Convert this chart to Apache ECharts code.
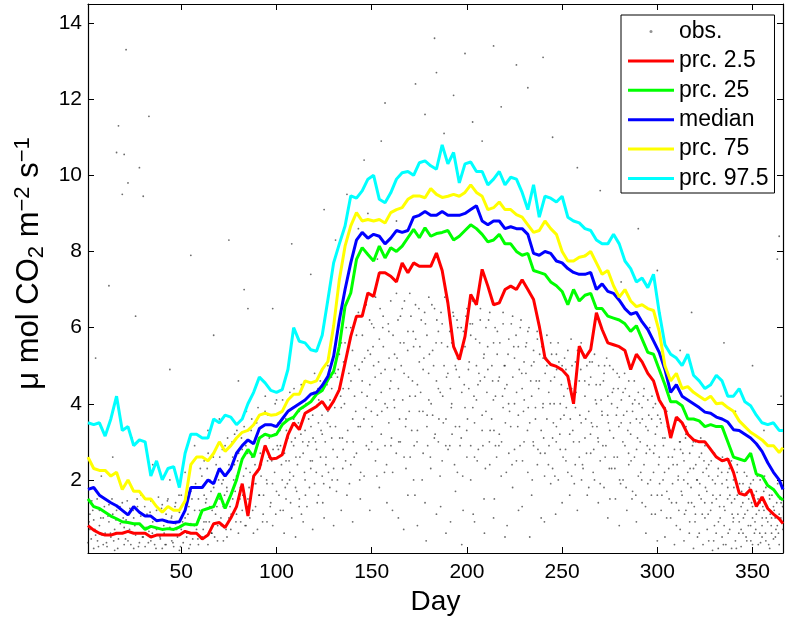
<!DOCTYPE html>
<html>
<head>
<meta charset="utf-8">
<script src="https://cdn.jsdelivr.net/npm/echarts@6.0.0/dist/echarts.min.js"></script>
<style>
html,body{margin:0;padding:0;background:#fff;}
#chart{width:788px;height:620px;}
</style>
</head>
<body>
<div id="chart"></div>
<script>
// ---- data ----
const days = [1,4,7,10,13,16,19,22,25,28,31,34,37,40,43,46,49,52,55,58,61,64,67,70,73,76,79,82,85,88,91,94,
97,100,103,106,109,112,115,118,121,124,127,130,133,136,139,142,145,148,151,154,157,160,163,166,169,172,175,178,181,184,
187,190,193,196,199,202,205,208,211,214,217,220,223,226,229,232,235,238,241,244,247,250,253,256,259,262,265,268,271,274,
277,280,283,286,289,292,295,298,301,304,307,310,313,316,319,322,325,328,331,334,337,340,343,346,349,352,355,358,361,364,366];

const prc2_5 = [0.8,0.68,0.6,0.55,0.55,0.6,0.6,0.65,0.6,0.6,0.6,0.5,0.55,0.55,0.55,0.55,0.55,0.65,0.6,0.6,0.45,0.55,0.85,0.88,0.75,1.0,1.3,1.9,1.05,2.1,2.3,2.9,
2.55,2.57,2.66,3.18,3.5,3.32,3.75,3.84,3.93,4.06,3.84,4.07,4.37,5.07,5.77,6.3,6.3,6.91,6.82,7.44,7.44,7.35,7.2,7.7,7.44,7.7,7.61,7.61,7.61,7.96,
7.5,6.65,5.5,5.16,5.77,6.87,6.6,7.53,7.09,6.6,6.65,7.0,7.09,7.0,7.26,7.0,6.74,6.04,5.2,5.03,4.98,4.89,4.72,4.0,5.51,5.2,5.42,6.39,5.95,5.6,
5.55,5.5,5.4,4.9,5.3,5.1,4.8,4.6,4.1,3.85,3.1,3.65,3.5,3.2,3.05,3.0,3.0,2.8,2.6,2.5,2.55,2.2,1.65,1.6,1.75,1.3,1.55,1.25,1.1,0.98,0.85];

const prc25 = [1.5,1.3,1.25,1.15,1.05,0.98,0.9,0.88,0.85,0.85,0.7,0.78,0.74,0.7,0.72,0.7,0.76,0.85,0.82,0.82,1.2,1.25,1.3,1.65,1.25,1.6,2.0,2.55,2.8,2.6,3.1,3.2,
3.15,3.2,3.45,3.58,3.65,3.85,3.95,4.05,4.25,4.35,4.63,4.85,5.51,6.56,6.91,7.79,8.1,7.92,7.75,8.14,7.83,8.1,8.0,8.14,8.36,8.58,8.36,8.62,8.4,8.47,
8.5,8.55,8.3,8.4,8.55,8.7,8.6,8.45,8.25,8.3,8.45,8.2,8.2,8.0,7.9,7.95,7.5,7.45,7.4,7.2,7.1,6.95,6.6,7.0,6.7,6.85,6.9,6.5,6.5,6.3,
6.25,6.2,6.1,5.9,6.05,5.7,5.35,5.3,4.9,4.5,4.05,4.05,3.95,3.6,3.6,3.55,3.4,3.45,3.4,3.4,3.0,2.6,2.55,2.5,2.7,2.15,2.1,1.85,1.75,1.55,1.47];

const median = [1.75,1.8,1.6,1.5,1.4,1.32,1.2,1.08,1.3,1.15,1.05,1.05,0.93,0.95,0.9,0.88,0.9,1.2,1.8,1.8,1.8,2.0,1.9,2.3,2.1,2.3,2.7,2.9,3.05,2.95,3.35,3.45,
3.45,3.4,3.6,3.8,3.9,4.0,4.1,4.25,4.3,4.48,4.72,5.25,6.2,7.0,7.7,8.3,8.5,8.35,8.45,8.4,8.2,8.35,8.55,8.5,8.55,8.9,8.95,9.05,8.95,8.95,
9.05,8.95,8.95,8.95,9.0,9.1,9.2,8.8,8.7,8.8,8.8,8.6,8.65,8.6,8.6,8.45,7.95,7.9,8.0,7.95,7.75,7.7,7.55,7.45,7.4,7.4,7.45,7.0,7.15,6.95,
6.9,6.72,6.5,6.35,6.4,6.15,5.95,5.65,5.35,4.9,4.3,4.5,4.2,4.1,4.0,3.9,3.78,3.75,3.65,3.6,3.52,3.32,3.3,3.2,3.1,2.95,2.75,2.45,2.2,2.0,1.75];

const prc75 = [2.6,2.3,2.25,2.25,2.1,2.2,1.75,2.0,1.7,1.7,1.5,1.5,1.3,1.15,1.3,1.2,1.2,1.45,2.4,2.6,2.6,2.5,2.7,3.0,2.75,2.9,3.1,3.25,3.3,3.45,3.7,3.75,
3.7,3.72,3.8,4.1,4.25,4.25,4.6,4.55,4.6,4.9,5.11,6.04,7.26,8.14,8.67,9.02,8.8,8.84,8.8,8.84,8.75,9.02,9.1,9.15,9.37,9.46,9.46,9.41,9.65,9.5,
9.42,9.45,9.5,9.45,9.55,9.75,9.55,9.45,9.1,9.15,9.3,9.1,9.1,8.97,8.9,8.7,8.5,8.55,8.8,8.6,8.45,8.0,7.75,7.75,7.85,7.88,8.0,7.7,7.4,7.5,
7.1,6.8,7.0,6.7,6.55,6.6,6.5,6.45,5.9,5.0,4.6,4.8,4.4,4.45,4.3,4.2,4.1,4.2,4.0,4.02,3.9,3.8,3.55,3.4,3.25,3.15,3.05,2.9,2.9,2.72,2.85];

const prc97_5 = [3.5,3.45,3.5,3.15,3.6,4.2,3.3,3.4,2.9,3.05,3.0,2.1,2.5,2.0,2.3,2.35,1.8,2.7,3.2,3.2,3.1,3.1,3.6,3.5,3.7,3.65,3.45,3.6,4.0,4.3,4.7,4.55,
4.35,4.3,4.37,4.9,6.0,5.64,5.6,5.42,5.38,5.8,6.74,7.7,8.2,8.67,9.46,9.4,9.59,9.9,10.0,9.37,9.28,9.54,9.9,10.07,10.1,10.0,10.33,10.38,10.25,10.16,
10.8,10.3,10.6,9.8,10.3,10.35,10.1,10.1,9.75,9.9,10.1,9.75,9.95,9.9,9.55,9.1,9.75,8.9,9.45,9.4,9.3,9.45,8.9,8.8,8.75,8.6,8.55,8.3,8.2,8.2,
8.45,8.2,7.75,7.55,7.2,7.3,7.05,7.4,6.4,5.55,5.3,5.2,5.0,5.3,4.75,4.6,4.4,4.5,4.75,4.6,4.2,4.2,4.4,4.05,3.95,3.7,3.5,3.45,3.5,3.3,3.3];

const obs = [
[1,0.35],[2,1.1],[2,0.7],[3,1.45],[4,0.2],[4,0.95],[5,1.3],[5,0.55],[5,5.2],
[6,0.4],[7,1.2],[7,0.8],[8,2.1],[9,0.3],[9,1.0],[10,0.6],[10,1.5],
[11,0.25],[12,0.9],[12,1.35],[13,0.5],[14,1.1],[14,2.6],[15,0.7],[15,0.15],[12,7.1],
[16,10.6],[16,1.2],[17,0.45],[17,11.3],[18,0.85],[19,9.5],[19,1.4],[20,0.3],[20,0.75],[20,10.55],
[21,13.3],[21,0.95],[22,9.8],[22,0.4],[23,1.25],[24,0.6],[24,3.1],[25,0.2],[25,1.0],
[26,0.55],[27,1.3],[28,10.2],[28,0.35],[29,0.8],[29,1.6],[30,0.5],[30,9.45],[26,6.3],
[31,0.25],[32,1.1],[33,11.55],[33,0.65],[34,1.45],[34,0.4],[35,0.9],[35,2.4],
[36,0.3],[37,1.2],[37,0.7],[38,1.55],[39,0.45],[39,0.95],[40,0.2],[40,1.35],
[41,0.6],[42,1.1],[42,0.3],[43,1.5],[44,0.75],[44,2.0],[45,0.4],[45,1.05],[44,4.9],
[46,0.25],[47,0.85],[47,1.4],[48,0.5],[49,1.15],[49,0.15],[50,0.7],[50,1.6],
[51,0.35],[52,1.0],[52,2.2],[53,0.6],[54,1.3],[54,0.2],[55,0.85],[55,1.7],[55,7.9],
[56,0.45],[57,1.2],[57,2.9],[58,0.7],[59,1.5],[59,0.3],[60,1.0],[60,2.3],
[61,0.5],[62,1.6],[62,2.5],[63,0.9],[64,3.3],[64,0.3],[65,1.3],[65,2.0],
[66,0.6],[67,1.8],[67,2.7],[68,1.1],[69,0.4],[69,2.2],[70,1.5],[70,3.6],[67,5.8],
[71,0.8],[72,2.0],[72,1.3],[73,2.9],[74,0.5],[74,1.7],[75,2.4],[75,1.0],[75,8.3],
[76,0.7],[77,2.6],[77,1.5],[78,3.2],[79,1.1],[79,2.1],[80,0.6],[80,4.6],
[81,1.8],[82,2.8],[82,1.2],[83,3.4],[84,0.8],[84,2.3],[85,1.5],[85,6.5],[83,7.0],
[86,1.0],[87,2.6],[87,3.6],[88,1.9],[89,1.3],[89,3.1],[90,0.7],[90,2.2],
[91,1.6],[92,3.4],[92,2.4],[93,1.1],[94,2.9],[94,3.8],[95,1.9],[95,0.9],
[96,2.6],[97,1.4],[97,3.7],[98,0.8],[99,2.2],[99,3.2],[100,1.7],[100,4.1],[98,6.5],
[101,2.8],[102,1.2],[102,3.5],[103,2.0],[104,0.6],[104,3.9],[105,2.5],[105,1.5],
[106,3.1],[107,2.2],[107,4.3],[108,1.0],[109,2.9],[109,3.6],[110,1.8],[110,0.5],[108,8.2],
[111,2.4],[112,3.8],[112,1.5],[113,4.5],[114,2.7],[114,0.9],[115,3.3],[115,2.0],
[116,1.3],[117,3.0],[117,4.2],[118,2.3],[119,3.7],[119,0.7],[120,1.9],[120,4.8],[118,7.4],
[121,2.8],[122,3.5],[122,1.6],[123,4.6],[124,2.1],[124,3.2],[125,1.0],[125,4.0],[125,9.1],
[126,2.6],[127,3.8],[127,5.0],[128,1.8],[129,3.1],[129,4.4],[130,2.3],[130,0.8],
[131,3.4],[132,4.7],[132,2.0],[133,5.3],[134,1.2],[134,3.9],[135,2.8],[135,4.4],[133,6.2],
[136,5.6],[137,3.0],[137,1.6],[138,4.8],[139,2.4],[139,6.0],[140,3.6],[140,0.9],[138,7.5],
[141,4.2],[142,5.8],[142,2.7],[143,6.4],[144,1.5],[144,3.4],[145,5.1],[145,4.6],[143,8.6],
[146,2.1],[147,6.6],[147,3.9],[148,5.4],[149,1.2],[149,4.5],[150,3.0],[150,6.1],[148,9.0],
[151,5.0],[152,2.5],[152,6.8],[153,3.7],[154,5.7],[154,1.8],[155,4.3],[155,3.2],[153,7.8],
[156,6.3],[157,2.9],[157,4.9],[158,1.4],[159,5.9],[159,3.5],[160,4.6],[160,6.7],[157,11.9],
[161,2.2],[162,5.3],[162,3.9],[163,6.9],[164,1.0],[164,4.4],[165,3.0],[165,5.6],[163,8.8],
[166,6.5],[167,2.6],[167,4.8],[168,3.6],[169,5.9],[169,1.6],[170,4.2],[170,6.9],
[171,3.3],[172,5.5],[172,2.0],[173,6.6],[174,4.5],[174,0.8],[175,3.8],[175,5.1],[173,12.4],
[176,6.2],[177,2.7],[177,4.9],[178,1.4],[179,5.8],[179,3.4],[180,6.8],[180,4.1],[178,11.6],
[181,2.3],[182,5.4],[182,3.7],[183,6.5],[184,1.1],[184,4.6],[185,3.0],[185,5.9],[183,13.6],[184,12.7],
[186,4.3],[187,6.1],[187,2.5],[188,5.0],[189,3.6],[189,0.6],[190,6.6],[190,4.8],[188,11.1],
[191,2.9],[192,5.6],[192,4.0],[193,6.3],[194,1.7],[194,3.4],[195,5.2],[195,2.2],[193,12.1],
[196,4.7],[197,6.0],[197,3.1],[198,1.2],[199,5.5],[199,3.9],[200,6.5],[200,2.6],[199,13.2],
[201,4.4],[202,5.8],[202,2.0],[203,6.7],[204,3.5],[204,0.9],[205,5.0],[205,4.1],[203,11.4],
[206,2.8],[207,6.2],[207,4.6],[208,3.3],[209,5.3],[209,1.5],[210,6.0],[210,3.8],[208,10.9],
[211,4.9],[212,2.4],[212,6.4],[213,3.6],[214,5.6],[214,1.0],[215,4.2],[215,2.9],
[216,5.9],[217,3.2],[217,4.7],[218,2.1],[219,6.1],[219,3.9],[220,5.0],[220,0.5],[218,11.8],
[221,4.5],[222,2.7],[222,5.7],[223,3.4],[224,6.3],[224,1.8],[225,4.0],[225,5.2],
[226,2.5],[227,5.5],[227,3.7],[228,6.0],[229,1.3],[229,4.4],[230,3.0],[230,5.1],
[231,4.8],[232,2.2],[232,5.9],[233,3.5],[234,4.2],[234,1.6],[235,5.4],[235,2.9],
[236,3.9],[237,5.7],[237,2.4],[238,4.6],[239,1.0],[239,3.3],[240,5.2],[240,4.0],
[241,2.7],[242,5.0],[242,3.6],[243,4.3],[244,1.9],[244,5.6],[245,3.1],[245,2.3],
[246,4.7],[247,3.4],[247,5.3],[248,2.0],[249,4.0],[249,2.8],[250,5.0],[250,1.4],
[251,3.7],[252,4.9],[252,2.5],[253,5.4],[254,1.6],[254,3.2],[255,4.4],[255,2.1],
[256,3.0],[257,5.1],[257,3.9],[258,1.2],[259,4.6],[259,2.6],[260,3.5],[260,5.6],
[261,2.3],[262,4.2],[262,3.1],[263,5.0],[264,1.8],[264,3.8],[265,2.7],[265,4.7],[262,7.9],
[266,3.4],[267,5.3],[267,2.0],[268,4.0],[269,1.4],[269,3.0],[270,4.5],[270,2.5],
[271,3.7],[272,4.8],[272,1.8],[273,2.9],[274,4.2],[274,1.0],[275,3.3],[275,5.0],
[276,2.3],[277,4.4],[277,3.1],[278,1.5],[279,3.9],[279,2.6],[280,4.7],[280,0.8],
[281,3.5],[282,2.0],[282,4.3],[283,2.9],[284,1.2],[284,3.8],[285,2.4],[285,4.6],[281,7.2],
[286,3.2],[287,1.7],[287,4.0],[288,2.6],[289,3.6],[289,0.9],[290,2.1],[290,4.3],
[291,3.0],[292,1.4],[292,3.9],[293,2.4],[294,3.4],[294,0.6],[295,1.9],[295,4.1],
[296,2.8],[297,3.6],[297,1.1],[298,2.2],[299,3.2],[299,4.0],[300,1.6],[300,0.4],[296,6.0],
[301,2.6],[302,3.5],[302,1.2],[303,2.0],[304,3.1],[304,0.5],[305,1.7],[305,3.8],
[306,2.3],[307,1.0],[307,3.3],[308,1.9],[309,2.8],[309,0.3],[310,1.4],[310,3.6],
[311,2.1],[312,0.7],[312,3.0],[313,1.6],[314,2.5],[314,0.4],[315,1.2],[315,3.2],[312,5.4],
[316,1.9],[317,2.7],[317,0.9],[318,1.4],[319,2.3],[319,0.2],[320,3.0],[320,1.1],
[321,2.0],[322,0.6],[322,2.6],[323,1.5],[324,0.3],[324,2.2],[325,1.0],[325,2.9],
[326,1.7],[327,0.4],[327,2.4],[328,1.2],[329,2.0],[329,0.15],[330,2.7],[330,0.8],[328,4.5],
[331,1.5],[332,2.3],[332,0.2],[333,1.0],[334,1.9],[334,0.5],[335,2.5],[335,1.3],
[336,0.3],[337,1.8],[337,2.2],[338,0.7],[339,1.4],[339,0.2],[340,2.0],[340,1.0],
[341,0.4],[342,1.6],[342,2.4],[343,0.9],[344,1.3],[344,0.25],[345,1.9],[345,0.6],[341,3.8],
[346,1.1],[347,2.1],[347,0.4],[348,1.5],[349,0.8],[349,1.9],[350,0.3],[350,1.3],
[351,0.6],[352,1.7],[352,1.1],[353,0.3],[354,1.4],[354,2.0],[355,0.8],[355,0.5],
[356,1.2],[357,0.4],[357,1.8],[358,0.9],[359,1.5],[359,0.2],[360,1.0],[360,0.6],[356,3.3],
[361,1.3],[362,0.5],[362,1.7],[363,0.8],[364,1.1],[364,0.3],[365,1.4],[366,0.7],[364,8.4],[363,7.8],[365,4.2]
];

const obsMore = [
[1.6,0.9],[2.7,0.45],[3.5,1.2],[4.6,0.7],[5.8,1.5],[6.5,0.25],[7.7,1.0],[8.4,0.55],[9.6,1.3],[10.7,0.35],[11.5,1.05],[12.8,0.6],[13.6,1.5],[14.5,0.4],[15.7,0.95],[16.6,0.2],[17.8,1.3],[18.6,0.6],[19.5,1.0],[20.7,0.45],
[21.6,1.45],[22.8,0.7],[23.5,0.3],[24.7,1.2],[25.6,0.8],[26.8,1.5],[27.5,0.25],[28.7,1.05],[29.6,0.5],[30.8,1.3],[31.5,0.75],[32.7,0.35],[33.6,1.15],[34.8,0.6],[35.5,1.4],[36.7,0.2],[37.6,0.95],[38.8,0.5],[39.6,1.25],[40.8,0.8],
[41.5,0.3],[42.7,1.45],[43.6,0.55],[44.8,1.0],[45.6,0.35],[46.7,1.3],[47.5,0.7],[48.8,1.6],[49.6,0.25],[50.7,0.9],[51.6,1.4],[52.8,0.5],[53.5,1.1],[54.7,0.3],[55.6,1.5],[56.8,0.8],[57.5,1.9],[58.7,0.45],[59.6,1.2],[60.8,2.1],
[61.5,0.7],[62.8,1.4],[63.6,2.3],[64.7,0.9],[65.6,1.7],[66.8,2.6],[67.5,0.5],[68.7,1.3],[69.6,2.0],[70.8,1.0],[71.6,2.8],[72.7,1.6],[73.5,0.7],[74.8,2.2],[75.6,1.3],[76.7,3.0],[77.5,2.0],[78.7,0.9],[79.6,2.5],[80.8,1.5],
[81.6,3.1],[82.7,2.1],[83.5,0.8],[84.8,2.7],[85.6,1.8],[86.7,3.3],[87.5,1.2],[88.7,2.4],[89.6,3.5],[90.8,1.6],[91.5,2.7],[92.7,0.9],[93.6,3.2],[94.8,2.0],[95.6,3.7],[96.7,1.3],[97.5,2.5],[98.7,3.4],[99.6,1.1],
[100.4,2.9],[101.3,1.6],[101.8,3.3],[102.6,2.4],[103.5,1.2],[104.2,2.7],[104.9,3.6],[105.7,1.9],[106.6,2.5],[107.4,1.4],[108.3,3.9],[108.9,2.1],[109.8,3.1],[110.6,1.7],[111.5,3.5],[112.3,2.6],[113.1,1.1],[113.8,3.0],[114.7,2.2],[115.6,4.0],
[116.4,2.9],[117.3,1.8],[118.1,3.4],[118.8,2.5],[119.7,4.3],[120.5,3.0],[121.4,1.4],[122.2,4.1],[123.1,2.6],[123.9,3.7],[124.8,1.9],[125.6,3.0],[126.5,4.5],[127.3,2.2],[128.2,3.4],[128.9,4.7],[129.7,2.8],[130.6,3.9],[131.5,1.7],[132.4,4.9],
[133.2,3.1],[134.1,5.6],[134.8,2.3],[135.7,4.0],[136.6,6.0],[137.4,3.3],[138.3,1.9],[139.1,4.6],[139.9,5.4],[140.8,2.6],[141.6,3.8],[142.5,6.3],[143.4,4.9],[144.2,2.2],[145.1,5.8],[145.9,3.6],[146.8,6.6],[147.6,4.2],[148.5,2.8],[149.3,5.3],
[150.2,3.4],[151.1,6.0],[151.8,4.7],[152.7,2.1],[153.6,5.1],[154.4,6.5],[155.3,3.8],[156.1,5.5],[157.0,4.0],[157.8,2.4],
[158.7,6.1],[159.5,4.4],[160.4,3.1],[161.2,5.8],[162.1,4.9],[162.9,2.7],[163.8,6.2],[164.6,3.6],[165.5,5.0],[166.3,4.1],[167.2,6.7],[168.0,2.3],[168.9,5.4],[169.7,3.8],[170.6,6.3],[171.4,4.6],[172.3,2.9],[173.1,5.7],[174.0,3.3],[174.8,6.5],
[175.7,4.3],[176.5,2.0],[177.4,5.2],[178.2,6.1],[179.1,3.7],[179.9,4.8],[180.8,2.6],[181.6,6.6],[182.5,5.0],[183.3,3.2],[184.2,6.2],[185.0,4.4],[185.9,2.1],[186.7,5.6],[187.6,3.5],[188.4,6.8],[189.3,4.7],[190.1,2.8],[191.0,5.9],[191.8,3.9],
[192.7,6.4],[193.5,2.4],[194.4,4.9],[195.2,6.0],[196.1,3.4],[196.9,5.4],[197.8,2.1],[198.6,4.5],[199.5,6.3],[200.3,3.6],[201.2,5.1],[202.0,2.9],[202.9,6.1],[203.7,4.2],[204.6,5.7],[205.4,2.5],[206.3,4.8],[207.1,6.5],[208.0,3.7],[208.8,5.2],
[209.7,2.3],[210.5,4.3],[211.4,6.2],[212.2,3.3],[213.1,5.0],[213.9,4.1],[214.8,6.0],[215.6,2.6],[216.5,4.6],[217.3,5.6],[218.2,3.0],[219.0,6.4],[219.9,4.4],[220.7,2.2],[221.6,5.3],[222.4,3.8],[223.3,6.1],[224.1,4.7],[225.0,2.8],[225.8,5.8],
[226.7,3.4],[227.5,4.9],[228.4,6.2],[229.2,2.5],[230.1,4.1],[230.9,5.5],[231.8,3.3],[232.6,6.0],[233.5,4.6],[234.3,2.0],[235.2,5.1],[236.0,3.6],[236.9,5.9],[237.7,4.4],[238.6,2.7],[239.4,5.5],[240.3,3.1],[241.1,4.8],[242.0,5.8],[242.8,2.4],
[243.7,4.0],[244.5,5.3],[245.4,3.5],[246.2,2.1],[247.1,4.9],[247.9,5.6],[248.8,3.2],[249.6,4.5],[250.5,2.6],
[160.9,1.2],[166.8,0.7],[172.7,1.6],[178.6,0.4],[186.2,1.3],[191.4,0.9],[197.3,0.3],[203.3,1.1],[209.2,0.6],[214.4,1.5],[221.1,0.8],[227.1,1.2],[233.0,0.5],[240.7,0.9],[246.6,1.1],
[251.3,5.2],[252.2,3.9],[253.0,2.2],[253.9,4.6],[254.7,5.7],[255.6,3.3],[256.4,1.9],[257.3,4.3],[258.1,5.4],[259.0,3.0],[259.8,4.9],[260.7,2.4],[261.5,5.3],[262.4,3.6],[263.2,1.6],[264.1,4.5],[264.9,3.2],[265.8,5.1],[266.6,2.8],[267.5,4.1],
[268.3,3.4],[269.2,5.0],[270.0,1.9],[270.9,3.8],[271.7,4.6],[272.6,2.6],[273.4,5.2],[274.3,3.5],[275.1,1.5],[276.0,4.0],[276.8,4.9],[277.7,2.3],[278.5,3.7],[279.4,4.4],[280.2,2.0],[281.1,4.1],[281.9,3.0],[282.8,4.8],[283.6,1.8],[284.5,3.3],
[285.3,4.2],[286.2,2.5],[287.0,3.8],[287.9,4.6],[288.7,1.6],[289.6,3.1],[290.4,4.0],[291.3,2.2],[292.1,3.6],[293.0,4.4],[293.8,1.3],[294.7,2.9],[295.5,3.7],[296.4,2.0],[297.2,4.2],[298.1,2.7],[298.9,1.1],[299.8,3.4],
[300.7,2.4],[301.5,3.6],[302.4,1.6],[303.2,2.9],[304.1,3.9],[304.9,1.0],[305.8,2.6],[306.6,3.3],[307.5,1.4],[308.3,2.4],[309.2,3.5],[310.0,0.8],[310.9,2.0],[311.7,3.0],[312.6,1.7],[313.4,2.7],[314.3,1.1],[315.1,3.4],[316.0,2.2],[316.8,0.6],
[317.7,1.8],[318.5,2.9],[319.4,1.3],[320.2,2.4],[321.1,0.5],[321.9,1.6],[322.8,3.1],[323.6,1.1],[324.5,2.5],[325.3,1.8],[326.2,0.7],[327.0,2.1],[327.9,2.8],[328.7,1.4],[329.6,0.4],[330.4,1.9],[331.3,2.6],[332.1,0.9],[333.0,1.6],[333.8,2.2],
[334.7,0.3],[335.5,1.2],[336.4,2.0],[337.2,0.6],[338.1,1.6],[338.9,2.5],[339.8,0.9],[340.6,1.5],[341.5,0.2],[342.3,1.1],[343.2,1.9],[344.0,0.7],[344.9,1.4],[345.7,2.2],[346.6,0.5],[347.4,1.2],[348.3,1.8],[349.1,0.4],[350.0,1.0],[350.8,1.6],
[351.7,0.7],[352.5,2.1],[353.4,1.2],[354.2,0.35],[355.1,1.0],[355.9,1.7],[356.8,0.6],[357.6,1.3],[358.5,0.3],[359.3,1.1],[360.2,1.6],[361.0,0.45],[361.9,1.0],[362.7,1.4],[363.6,0.6],[364.4,1.5],[365.3,0.9],
[232,12.3],[245,11.0],[258,10.2],[270,9.6],[240,13.1],[226,12.9],[214,13.4],[155,10.9],[146,10.4],[137,9.5],[131,8.3],[290,8.6],[300,7.5],[318,6.4],[335,5.6],[350,5.0]
];

const obsCore = [
[60.3,1.8],[61.9,0.9],[63.2,1.5],[64.1,2.7],[65.9,0.6],[66.2,1.2],[68.3,2.4],[69.1,0.8],[70.2,2.6],[71.3,1.9],[72.1,0.4],[73.9,1.8],[74.3,3.1],[76.2,1.1],[77.9,2.4],[78.3,1.7],[79.2,3.3],[80.1,2.7],[81.2,0.9],[82.3,1.6],
[83.9,2.9],[84.2,3.8],[86.1,2.2],[87.9,0.6],[88.2,3.0],[89.1,1.9],[90.3,3.9],[91.9,2.1],[93.2,1.6],[94.1,4.2],[95.3,2.5],[96.2,3.1],[97.9,1.9],[98.2,2.8],[99.3,4.0],
[100.9,3.5],[102.1,2.9],[103.2,4.1],[104.6,1.8],[105.2,3.3],[106.9,2.0],[107.9,3.0],[109.2,4.4],[110.2,2.6],[111.9,1.3],[112.8,3.2],[114.1,3.9],[115.2,1.6],[116.9,3.6],[117.8,2.5],[119.2,3.1],[120.9,2.2],[121.8,4.4],[123.4,3.3],[124.3,1.4],
[125.9,2.4],[126.8,3.5],[128.1,4.1],[129.2,2.0],[130.9,4.8],[131.9,2.6],[133.7,4.2],[134.6,3.1],[135.2,5.1],[136.3,2.5],[137.9,4.4],[138.8,5.7],[140.3,3.0],[141.2,5.0],[142.9,3.4],[143.7,2.0],[144.8,4.3],[146.3,5.2],[147.2,2.9],[148.9,6.2],
[149.8,3.8],[150.7,5.5],[152.2,4.1],[153.1,2.8],[154.9,4.8],[155.8,6.0],[156.7,2.2],[158.2,3.9],[159.1,5.2],[160.1,2.9],
[161.7,4.1],[163.3,5.2],[164.2,3.0],[165.1,6.3],[166.9,5.6],[167.8,3.4],[169.3,4.7],[170.2,2.6],[171.8,5.9],[172.9,4.2],[173.8,3.0],[175.3,5.5],[176.9,3.8],[177.8,6.4],[179.4,2.9],[180.3,5.3],[181.2,4.0],[182.9,3.1],[183.8,5.6],[185.3,3.6],
[186.4,6.4],[187.3,4.2],[188.9,2.9],[189.8,5.5],[191.3,4.4],[192.2,3.2],[193.9,5.0],[194.8,6.2],[196.4,2.9],[197.3,4.3],[198.2,5.9],[199.9,3.3],[200.8,4.9],[201.7,6.1],[203.1,3.9],[204.0,2.6],[205.8,4.5],[206.7,5.6],[208.4,2.9],[209.3,4.7],
[210.9,5.5],[211.8,3.0],[213.5,4.6],[214.2,3.3],[215.9,5.3],[216.8,2.9],[218.7,4.2],[219.6,5.0],[220.2,3.5],[221.9,4.0],[223.7,2.4],[224.6,5.5],[226.1,4.3],[227.9,2.9],[228.8,4.8],[229.7,3.8],[231.3,5.6],[232.2,3.9],[233.9,5.0],[234.8,3.0],
[236.4,4.6],[237.3,2.8],[238.2,5.3],[239.9,3.9],[240.8,2.1],[241.7,5.2],[243.1,2.9],[244.0,4.6],[245.8,4.0],[246.9,3.0],[248.3,5.1],[249.2,3.6],[250.9,4.2],
[251.8,2.8],[252.9,4.4],[254.3,3.6],[255.2,5.0],[256.9,2.4],[257.8,4.8],[259.3,3.7],[260.2,2.0],[261.9,4.6],[262.8,2.7],[264.5,5.1],[265.4,3.5],[266.3,2.2],[267.9,4.5],[268.8,3.1],[270.5,4.1],[271.4,2.9],[272.3,5.0],[273.9,3.7],[274.8,2.3],
[276.4,4.3],[277.3,2.6],[278.9,4.8],[279.8,3.4],[280.7,1.9],[282.3,3.7],[283.2,4.4],[284.9,2.7],[285.8,3.5],[286.7,1.5],[288.2,4.1],[289.1,2.8],[290.9,3.5],[291.8,2.0],[292.7,4.2],[294.2,2.7],[295.1,3.3],[296.9,1.6],[297.8,3.9],[298.7,2.9],
[300.2,3.7],[301.2,1.9],[302.9,3.1],[303.8,2.2],[305.3,3.4],[306.2,1.5],[307.9,2.6],[308.8,3.4],[310.4,2.4],[311.3,1.2],[312.2,2.8],[313.9,2.0],[314.8,3.1],[316.3,1.4],[317.2,2.3],[318.9,3.0],[319.8,0.9],[320.7,2.0],[322.3,1.9],[323.2,2.7],
[324.9,1.4],[325.8,2.3],[326.7,1.1],[328.3,2.5],[329.2,1.6],[330.9,0.6],[331.8,2.1],[332.7,1.3],[334.2,2.6],[335.1,0.8],[336.9,1.5],[337.8,2.3],[339.3,1.1],[340.2,1.8],[341.9,2.2],[342.8,0.6],[344.3,1.7],[345.2,1.0],[346.9,1.6],[347.8,0.8],
[349.5,1.4],[350.4,2.0],[351.3,0.9],[352.9,1.5],[353.8,0.6],[355.4,1.3],[356.3,2.1],[357.2,1.0],[358.9,1.6],[359.8,0.8],[361.4,1.2],[362.3,0.7],[363.2,1.9],[364.9,1.0],[365.8,1.3]
];

const seriesNames = ['obs.','prc. 2.5','prc. 25','median','prc. 75','prc. 97.5'];
const seriesColors = ['#3c3c3c','#ff0000','#00ff00','#0000ff','#ffff00','#00ffff'];
const lineValues = [prc2_5, prc25, median, prc75, prc97_5];
const xRange = [1, 366];
const yRange = [0.08, 14.5];

// ---- chart ----
const FONT = 'Liberation Sans, Arial, Helvetica, sans-serif';
const chart = echarts.init(document.getElementById('chart'), null, {renderer:'canvas'});

const pair = (arr) => days.map((d, i) => [d, arr[i]]);

const baseX = {
  type:'value', min:xRange[0], max:xRange[1], minInterval:50, maxInterval:50,
  axisLine:{show:true, onZero:false, lineStyle:{color:'#000', width:1.2}},
  axisTick:{show:true, inside:true, length:6, lineStyle:{color:'#000', width:1}},
  splitLine:{show:false}
};
const baseY = {
  type:'value', min:yRange[0], max:yRange[1], minInterval:2, maxInterval:2,
  axisLine:{show:true, onZero:false, lineStyle:{color:'#000', width:1.2}},
  axisTick:{show:true, inside:true, length:6, lineStyle:{color:'#000', width:1}},
  splitLine:{show:false}
};

const series = [{
  name: seriesNames[0], type:'scatter', data: obs.concat(obsMore, obsCore), symbol:'circle', symbolSize:1.8,
  itemStyle:{color:'rgba(25,25,25,0.8)'}, silent:true, z:1
}];
lineValues.forEach((arr, k) => {
  series.push({
    name: seriesNames[k+1], type:'line', data: pair(arr), symbol:'none', showSymbol:false,
    lineStyle:{color: seriesColors[k+1], width:3}, itemStyle:{color: seriesColors[k+1]},
    silent:true, z: 2 + k
  });
});

chart.setOption({
  animation:false,
  backgroundColor:'#fff',
  grid:{left:88, right:5, top:4, bottom:67, containLabel:false, outerBoundsMode:'none'},
  xAxis:[
    Object.assign({}, baseX, {
      position:'bottom',
      axisLabel:{fontSize:21, color:'#000', fontFamily:FONT, margin:9, showMinLabel:false, showMaxLabel:false},
      name:'Day', nameLocation:'middle', nameGap:31,
      nameTextStyle:{fontSize:28, color:'#000', fontFamily:FONT}
    }),
    Object.assign({}, baseX, {position:'top', axisLabel:{show:false}})
  ],
  yAxis:[
    Object.assign({}, baseY, {
      position:'left',
      axisLabel:{fontSize:21, color:'#000', fontFamily:FONT, margin:6, showMinLabel:false, showMaxLabel:false},
      name:'{a|\u03bc mol CO}{b|2}{a| m}{c|\u22122}{a| s}{c|\u22121}',
      nameLocation:'middle', nameGap:35, nameRotate:90,
      nameTextStyle:{color:'#000', fontFamily:FONT, padding:[0,0,0,30], rich:{
        a:{fontSize:31, lineHeight:36, fontFamily:FONT, color:'#000', verticalAlign:'middle'},
        b:{fontSize:22, lineHeight:21, fontFamily:FONT, color:'#000', verticalAlign:'bottom'},
        c:{fontSize:22, lineHeight:21, fontFamily:FONT, color:'#000', verticalAlign:'top'}
      }}
    }),
    Object.assign({}, baseY, {position:'right', axisLabel:{show:false}})
  ],
  legend:{
    orient:'vertical', left:621, top:15,
    padding:[5,6,3,7], itemGap:6.4, itemWidth:46, itemHeight:3,
    backgroundColor:'#fff', borderColor:'#000', borderWidth:1, borderRadius:0,
    selectedMode:false,
    textStyle:{fontSize:23, fontFamily:FONT, color:'#000', lineHeight:23},
    data:[
      {name:seriesNames[0], icon:'circle', itemStyle:{color:'#777'}},
      {name:seriesNames[1], icon:'rect'},
      {name:seriesNames[2], icon:'rect'},
      {name:seriesNames[3], icon:'rect'},
      {name:seriesNames[4], icon:'rect'},
      {name:seriesNames[5], icon:'rect'}
    ]
  },
  series: series
});
</script>
</body>
</html>
